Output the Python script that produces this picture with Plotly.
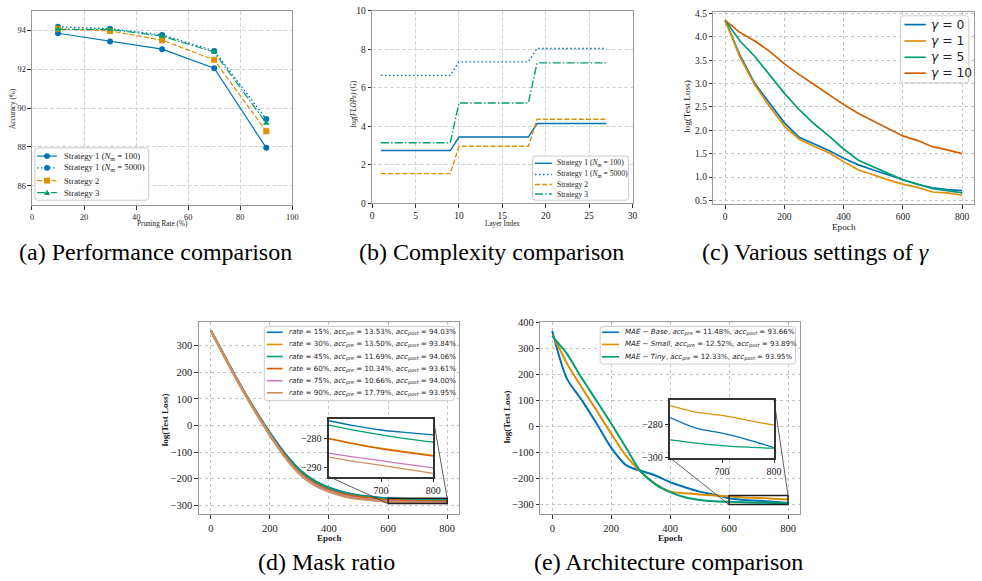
import plotly.graph_objects as go

W, H = 982, 581
SERIF = "Liberation Serif"
SANS = "DejaVu Sans"
BLUE, ORANGE, GREEN, RED, PINK, TAN = "#0173B2", "#DE8F05", "#029E73", "#D55E00", "#CC78BC", "#CA9161"

# ---------------- data ----------------
# (a) Performance comparison
prune_rate = [10, 30, 50, 70, 90]
acc_s1_n100 = [93.85, 93.43, 93.03, 92.05, 87.95]
acc_s1_n5000 = [94.18, 94.08, 93.76, 92.94, 89.43]
acc_s2 = [94.08, 93.97, 93.49, 92.48, 88.80]
acc_s3 = [94.05, 94.05, 93.70, 92.88, 89.22]

# (b) Complexity comparison
layer_idx = list(range(1, 28))
flops_s1_n100 = [2.75] * 9 + [3.45] * 9 + [4.15] * 9
flops_s1_n5000 = [6.65] * 9 + [7.35] * 9 + [8.05] * 9
flops_s2 = [1.55] * 9 + [2.97] * 9 + [4.37] * 9
flops_s3 = [3.15] * 9 + [5.22] * 9 + [7.30] * 9

# (c) Various settings of gamma
epochs_c = [0, 50, 100, 150, 200, 250, 300, 350, 400, 450, 500, 550, 600, 650, 700, 750, 800]
loss_g0 = [4.35, 3.60, 3.00, 2.58, 2.16, 1.85, 1.71, 1.57, 1.40, 1.26, 1.15, 1.05, 0.94, 0.84, 0.77, 0.73, 0.71]
loss_g1 = [4.35, 3.56, 2.97, 2.51, 2.09, 1.81, 1.66, 1.52, 1.33, 1.15, 1.05, 0.94, 0.85, 0.78, 0.68, 0.66, 0.61]
loss_g5 = [4.35, 3.91, 3.58, 3.18, 2.79, 2.44, 2.14, 1.88, 1.60, 1.36, 1.22, 1.08, 0.94, 0.85, 0.75, 0.71, 0.66]
loss_g10 = [4.35, 4.09, 3.91, 3.69, 3.42, 3.19, 2.98, 2.76, 2.55, 2.36, 2.20, 2.04, 1.88, 1.78, 1.65, 1.58, 1.50]

# (d) Mask ratio
epochs_d = [0, 50, 100, 150, 200, 250, 300, 350, 400, 450, 500, 550, 600, 650, 700, 750, 800]
loss_r15 = [357, 253, 152, 59, -27, -104, -165, -207, -233, -251, -262, -268, -273.7, -275.5, -276.9, -277.8, -278.6]
loss_r30 = [357, 252, 150, 55, -33, -112, -176, -216, -241, -257, -267, -273, -279.8, -281.6, -283.2, -284.5, -285.7]
loss_r45 = [357, 253, 151, 57, -30, -108, -169, -210, -236, -253, -264, -270, -275.2, -277.0, -278.6, -280.0, -281.1]
loss_r60 = [357, 252, 150, 55, -33, -112, -176, -217, -242, -258, -268, -274, -280.0, -281.8, -283.4, -284.7, -285.9]
loss_r75 = [357, 251, 149, 53, -35, -116, -180, -221, -246, -263, -273, -279, -284.9, -286.3, -287.5, -288.8, -290.0]
loss_r90 = [357, 251, 148, 52, -37, -118, -182, -224, -249, -266, -276, -281, -286.3, -287.8, -289.1, -290.5, -291.9]
labels_d = [
    ("15%", "13.53%", "94.03%"), ("30%", "13.50%", "93.84%"), ("45%", "11.69%", "94.06%"),
    ("60%", "10.34%", "93.61%"), ("75%", "10.66%", "94.00%"), ("90%", "17.79%", "93.95%"),
]

# (e) Architecture comparison
epochs_e = [0, 25, 50, 100, 150, 200, 250, 300, 350, 400, 450, 500, 550, 600, 650, 700, 750, 800]
loss_base = [368, 265, 184, 102, 13, -81, -148, -170, -188, -214, -233, -250, -262, -275.6, -282, -285, -289, -293.7]
loss_small = [352, 300, 243, 151, 63, -27, -112, -174, -220, -250, -256, -261, -265, -268.3, -272.3, -274.3, -277.3, -280.2]
loss_tiny = [348, 315, 280, 187, 100, 12, -80, -172, -222, -252, -272, -282, -287, -289.1, -291, -292.5, -293.5, -294.1]
labels_e = [("Base", "11.48%", "93.66%"), ("Small", "12.52%", "93.89%"), ("Tiny", "12.33%", "93.95%")]

# ---------------- layout geometry (pixels) ----------------
BOX = {
    "a": (30.3, 6.0, 293.3, 204.0),
    "b": (374.0, 6.0, 637.0, 202.3),
    "c": (718.7, 6.7, 981.9, 203.0),
    "d": (199.0, 323.3, 461.7, 519.3),
    "e": (544.0, 323.3, 806.0, 519.3),
    "di": (330.3, 421.7, 435.7, 480.7),
    "ei": (675.0, 402.7, 780.0, 461.7),
}
RANGES = {
    "a": ([0, 100], [85, 95]),
    "b": ([0, 30], [0, 10]),
    "c": ([-40, 840], [0.42, 4.54]),
    "d": ([-40, 840], [-334, 388]),
    "e": ([-40, 840], [-338, 402]),
    "di": ([600, 800], [-293, -273]),
    "ei": ([600, 800], [-300, -265]),
}
AX = {"a": 1, "b": 2, "c": 3, "d": 4, "e": 5, "di": 6, "ei": 7}


def xdom(b):
    return [b[0] / W, min(b[2] / W, 1.0)]


def ydom(b):
    return [1 - b[3] / H, 1 - b[1] / H]


def to_px(key, xv, yv):
    x0, y0, x1, y1 = BOX[key]
    xr, yr = RANGES[key]
    px = x0 + (xv - xr[0]) / (xr[1] - xr[0]) * (x1 - x0)
    py = y1 - (yv - yr[0]) / (yr[1] - yr[0]) * (y1 - y0)
    return px, py


fig = go.Figure()


def axref(key):
    n = AX[key]
    return ("x" if n == 1 else f"x{n}"), ("y" if n == 1 else f"y{n}")


def line(key, x, y, color, width, dash="solid", symbol=None, msize=6, shape="linear"):
    xa, ya = axref(key)
    mode = "lines+markers" if symbol else "lines"
    fig.add_trace(go.Scatter(
        x=x, y=y, xaxis=xa, yaxis=ya, mode=mode,
        line=dict(color=color, width=width, dash=dash, shape=shape, smoothing=0.8),
        marker=dict(symbol=symbol or "circle", size=msize, color=color),
        showlegend=False, hoverinfo="skip"))


D_DASH = "5px,2.2px"
D_DOT = "1.5px,2.5px"
D_DASHDOT = "8px,2.2px,1.5px,2.2px"

# (a)
line("a", prune_rate, acc_s1_n100, BLUE, 1.2, "solid", "circle", 6)
line("a", prune_rate, acc_s1_n5000, BLUE, 1.4, D_DOT, "circle", 6)
line("a", prune_rate, acc_s2, ORANGE, 1.2, D_DASH, "square", 6)
line("a", prune_rate, acc_s3, GREEN, 1.2, D_DASHDOT, "triangle-up", 6)

# (b)
line("b", layer_idx, flops_s1_n100, BLUE, 1.4)
line("b", layer_idx, flops_s1_n5000, BLUE, 1.4, D_DOT)
line("b", layer_idx, flops_s2, ORANGE, 1.4, D_DASH)
line("b", layer_idx, flops_s3, GREEN, 1.4, D_DASHDOT)

# (c)
for ys, col in [(loss_g0, BLUE), (loss_g1, ORANGE), (loss_g5, GREEN), (loss_g10, RED)]:
    line("c", epochs_c, ys, col, 1.7)

# (d)
d_series = [loss_r15, loss_r30, loss_r45, loss_r60, loss_r75, loss_r90]
d_colors = [BLUE, ORANGE, GREEN, RED, PINK, TAN]
for ys, col in zip(d_series, d_colors):
    line("d", epochs_d, ys, col, 2.2, shape="spline")
sel_d = [i for i, e in enumerate(epochs_d) if e >= RANGES["di"][0][0]]
for ys, col in zip(d_series, d_colors):
    line("di", [epochs_d[i] for i in sel_d], [ys[i] for i in sel_d], col, 1.3, shape="spline")

# (e)
e_series = [loss_base, loss_small, loss_tiny]
e_colors = [BLUE, ORANGE, GREEN]
for ys, col in zip(e_series, e_colors):
    line("e", epochs_e, ys, col, 2.0, shape="spline")
sel_e = [i for i, e in enumerate(epochs_e) if e >= RANGES["ei"][0][0]]
for ys, col in zip(e_series, e_colors):
    line("ei", [epochs_e[i] for i in sel_e], [ys[i] for i in sel_e], col, 1.3, shape="spline")


# ---------------- axes ----------------
def axis(key, is_x, tickvals, ticksize, griddash, gridcolor, linecolor="#999999", lw=1, showgrid=True, fmt=None):
    n = AX[key]
    xr, yr = RANGES[key]
    other = ("y" if n == 1 else f"y{n}") if is_x else ("x" if n == 1 else f"x{n}")
    d = dict(
        domain=xdom(BOX[key]) if is_x else ydom(BOX[key]),
        range=xr if is_x else yr, anchor=other, autorange=False,
        showline=True, mirror=True, linecolor=linecolor, linewidth=lw,
        ticks="outside", ticklen=3.5, tickwidth=0.8, tickcolor="#333333",
        tickmode="array", tickvals=tickvals,
        showgrid=showgrid, gridcolor=gridcolor, gridwidth=0.8, griddash=griddash,
        zeroline=False, tickfont=dict(family=SERIF, size=ticksize, color="#222222"),
    )
    if fmt:
        d["tickformat"] = fmt
    name = ("xaxis" if is_x else "yaxis") + ("" if n == 1 else str(n))
    return name, d


axes = [
    axis("a", True, [0, 20, 40, 60, 80, 100], 8.3, "4px,2px", "#d4d4d4"),
    axis("a", False, [86, 88, 90, 92, 94], 8.3, "4px,2px", "#d4d4d4"),
    axis("b", True, [0, 5, 10, 15, 20, 25, 30], 9.5, "4px,2px", "#d4d4d4"),
    axis("b", False, [0, 2, 4, 6, 8, 10], 9.5, "4px,2px", "#d4d4d4"),
    axis("c", True, [0, 200, 400, 600, 800], 9.5, "dot", "#c4c4c4"),
    axis("c", False, [0.5, 1.0, 1.5, 2.0, 2.5, 3.0, 3.5, 4.0, 4.5], 9.5, "dot", "#c4c4c4", fmt=".1f"),
    axis("d", True, [0, 200, 400, 600, 800], 10.5, "dot", "#c4c4c4"),
    axis("d", False, [-300, -200, -100, 0, 100, 200, 300], 10.5, "dot", "#c4c4c4"),
    axis("e", True, [0, 200, 400, 600, 800], 10.5, "dot", "#c4c4c4"),
    axis("e", False, [-300, -200, -100, 0, 100, 200, 300, 400], 10.5, "dot", "#c4c4c4"),
    axis("di", True, [700, 800], 10, "dot", "#c4c4c4", linecolor="#333333", lw=1.6, showgrid=False),
    axis("di", False, [-290, -280], 10, "dot", "#c4c4c4", linecolor="#333333", lw=1.6, showgrid=False),
    axis("ei", True, [700, 800], 10, "dot", "#c4c4c4", linecolor="#333333", lw=1.6, showgrid=False),
    axis("ei", False, [-300, -280], 10, "dot", "#c4c4c4", linecolor="#333333", lw=1.6, showgrid=False),
]
lay = dict(
    width=W, height=H, margin=dict(l=0, r=0, t=0, b=0),
    paper_bgcolor="white", plot_bgcolor="white", showlegend=False,
)
for name, d in axes:
    lay[name] = d
fig.update_layout(**lay)

# ---------------- inset markers ----------------
for main, ins in [("d", "di"), ("e", "ei")]:
    xa, ya = axref(main)
    (ix0, ix1), (iy0, iy1) = RANGES[ins]
    fig.add_shape(type="rect", xref=xa, yref=ya, x0=ix0, x1=ix1, y0=iy0, y1=iy1,
                  line=dict(color="#222222", width=1.5), layer="above")
    bx0, by0, bx1, by1 = BOX[ins]
    p_ll = to_px(main, ix0, iy0)
    p_ur = to_px(main, ix1, iy1)
    for (ax_, ay_), (bx_, by_) in [((bx0, by1), p_ll), ((bx1, by0), p_ur)]:
        fig.add_shape(type="line", xref="paper", yref="paper",
                      x0=ax_ / W, y0=1 - ay_ / H, x1=bx_ / W, y1=1 - by_ / H,
                      line=dict(color="#333333", width=0.8), layer="above")


# ---------------- legends (drawn as decoration) ----------------
def rounded_rect(x0, y0, x1, y1, r=3.0):
    def P(px, py):
        return f"{px / W},{1 - py / H}"
    return (f"M {P(x0 + r, y0)} L {P(x1 - r, y0)} Q {P(x1, y0)} {P(x1, y0 + r)} "
            f"L {P(x1, y1 - r)} Q {P(x1, y1)} {P(x1 - r, y1)} "
            f"L {P(x0 + r, y1)} Q {P(x0, y1)} {P(x0, y1 - r)} "
            f"L {P(x0, y0 + r)} Q {P(x0, y0)} {P(x0 + r, y0)} Z")


def add_legend(box, rows, sample, text_x, items, font):
    x0, y0, x1, y1 = box
    fig.add_shape(type="path", xref="paper", yref="paper", path=rounded_rect(x0, y0, x1, y1),
                  line=dict(color="#cccccc", width=1),
                  fillcolor="rgba(255,255,255,0.9)", layer="above")
    for yc, it in zip(rows, items):
        label, color, width, dash, sym = it
        fig.add_shape(type="line", xref="paper", yref="paper", x0=sample[0] / W, x1=sample[1] / W,
                      y0=1 - yc / H, y1=1 - yc / H, line=dict(color=color, width=width, dash=dash),
                      layer="above")
        xm = (sample[0] + sample[1]) / 2
        r = 3.0
        if sym == "circle":
            fig.add_shape(type="circle", xref="paper", yref="paper", x0=(xm - r) / W, x1=(xm + r) / W,
                          y0=1 - (yc + r) / H, y1=1 - (yc - r) / H, fillcolor=color,
                          line=dict(width=0), layer="above")
        elif sym == "square":
            fig.add_shape(type="rect", xref="paper", yref="paper", x0=(xm - r) / W, x1=(xm + r) / W,
                          y0=1 - (yc + r) / H, y1=1 - (yc - r) / H, fillcolor=color,
                          line=dict(width=0), layer="above")
        elif sym == "triangle":
            path = (f"M {(xm - r) / W},{1 - (yc + r * 0.8) / H} L {(xm + r) / W},{1 - (yc + r * 0.8) / H} "
                    f"L {xm / W},{1 - (yc - r) / H} Z")
            fig.add_shape(type="path", xref="paper", yref="paper", path=path, fillcolor=color,
                          line=dict(width=0), layer="above")
        fig.add_annotation(x=text_x / W, y=1 - yc / H, xref="paper", yref="paper", text=label,
                           showarrow=False, xanchor="left", yanchor="middle", font=font)


strat_labels = ["Strategy 1 (<i>N</i><sub>m</sub> = 100)", "Strategy 1 (<i>N</i><sub>m</sub> = 5000)",
                "Strategy 2", "Strategy 3"]
add_legend((33.3, 145.7, 148.3, 199.0), [154.0, 166.0, 179.0, 191.3], (35.5, 55.5), 61.0, [
    (strat_labels[0], BLUE, 1.2, "solid", "circle"),
    (strat_labels[1], BLUE, 1.4, D_DOT, "circle"),
    (strat_labels[2], ORANGE, 1.2, D_DASH, "square"),
    (strat_labels[3], GREEN, 1.2, D_DASHDOT, "triangle"),
], dict(family=SERIF, size=8.7, color="#222222"))

add_legend((536.0, 154.0, 633.0, 199.0), [161.3, 172.7, 183.0, 192.7], (538.5, 555.5), 558.5, [
    (strat_labels[0], BLUE, 1.4, "solid", None),
    (strat_labels[1], BLUE, 1.4, D_DOT, None),
    (strat_labels[2], ORANGE, 1.4, D_DASH, None),
    (strat_labels[3], GREEN, 1.4, D_DASHDOT, None),
], dict(family=SERIF, size=7.6, color="#222222"))

gammas = ["0", "1", "5", "10"]
add_legend((907.7, 11.0, 976.7, 79.3), [20.0, 36.7, 53.3, 69.5], (911.7, 933.3), 936.5, [
    (f"<i>γ</i> = {g}", c, 1.7, "solid", None) for g, c in zip(gammas, [BLUE, ORANGE, GREEN, RED])
], dict(family=SANS, size=12.3, color="#222222"))

add_legend((265.0, 327.7, 457.0, 403.3), [333.6, 346.0, 358.3, 370.6, 383.0, 395.3], (267.5, 283.5), 288.0, [
    (f"<i>rate</i> = {r}, <i>acc</i><sub><i>pre</i></sub> = {a}, <i>acc</i><sub><i>post</i></sub> = {p}",
     c, 1.6, "solid", None) for (r, a, p), c in zip(labels_d, d_colors)
], dict(family=SANS, size=7.05, color="#222222"))

add_legend((604.3, 327.7, 801.7, 366.0), [333.6, 346.0, 358.6], (606.0, 623.5), 627.5, [
    (f"<i>MAE</i> − <i>{m}</i>, <i>acc</i><sub><i>pre</i></sub> = {a}, <i>acc</i><sub><i>post</i></sub> = {p}",
     c, 1.6, "solid", None) for (m, a, p), c in zip(labels_e, e_colors)
], dict(family=SANS, size=7.05, color="#222222"))


# ---------------- axis titles & captions ----------------
def text(x, y, s, size, family=SERIF, angle=0, color="#222222"):
    fig.add_annotation(x=x / W, y=1 - y / H, xref="paper", yref="paper", text=s, showarrow=False,
                       xanchor="center", yanchor="middle", textangle=angle,
                       font=dict(family=family, size=size, color=color))


text(161.7, 223.0, "Pruning Rate (%)", 7.2)
text(11.0, 105.0, "Accuracy (%)", 7.2, angle=-90)
text(506.0, 223.0, "Layer Index", 7.2)
text(356.0, 101.0, "<i>log(FLOPs)</i> (G)", 7.2, angle=-90)
text(851.0, 226.0, "Epoch", 9.2)
text(692.0, 103.0, "log(Test Loss)", 9.2, angle=-90)
text(330.5, 543.5, "<b>Epoch</b>", 9)
text(165.0, 423.0, "<b>log(Test Loss)</b>", 9, angle=-90)
text(675.5, 543.5, "<b>Epoch</b>", 9)
text(510.5, 420.0, "<b>log(Test Loss)</b>", 9, angle=-90)

text(155.5, 252.0, "(a) Performance comparison", 24, color="#000000")
text(495.0, 252.0, "(b) Complexity comparison", 24, color="#000000")
text(821.5, 252.0, "(c) Various settings of <i>γ</i>", 24, color="#000000")
text(328.0, 568.0, "(d) Mask ratio", 24, color="#000000")
text(673.0, 568.0, "(e) Architecture comparison", 24, color="#000000")

fig.write_html("out.html", config={"displayModeBar": False},
               post_script="document.body.style.margin='0';document.body.style.padding='0';")
